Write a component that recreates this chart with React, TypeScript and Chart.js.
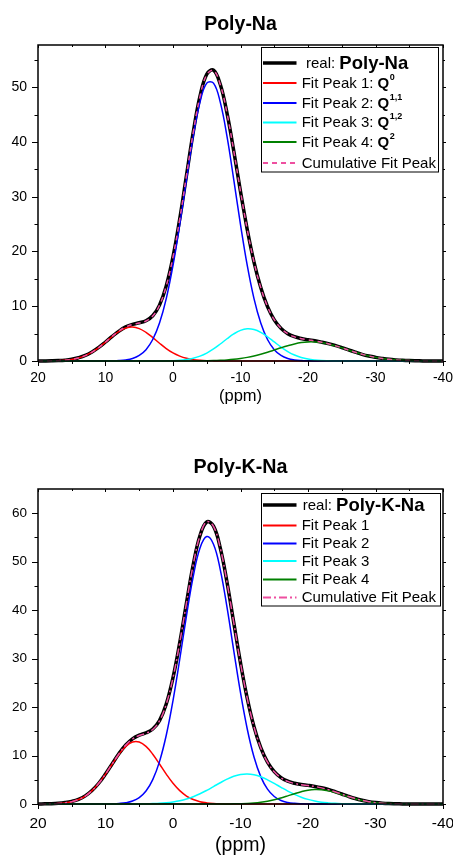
import React, { useEffect, useRef } from "react";
import { Chart, registerables } from "chart.js";

Chart.register(...registerables);

const FONT = "'Liberation Sans', Arial, Helvetica, sans-serif";

// chemical shift grid (ppm)
const PPM = [
  20, 19, 18, 17, 16, 15, 14, 13, 12, 11, 10, 9, 8, 7, 6, 5, 4, 3, 2, 1, 0,
  -1, -2, -3, -4, -5, -6, -7, -8, -9, -10, -11, -12, -13, -14, -15, -16, -17, -18, -19, -20,
  -21, -22, -23, -24, -25, -26, -27, -28, -29, -30, -31, -32, -33, -34, -35, -36, -37, -38, -39, -40,
];

const X_TICKS = [20, 10, 0, -10, -20, -30, -40];
const X_MINOR = [15, 5, -5, -15, -25, -35];
const TOP_Y_TICKS = [0, 10, 20, 30, 40, 50];
const TOP_Y_MINOR = [5, 15, 25, 35, 45, 55];
const BOT_Y_TICKS = [0, 10, 20, 30, 40, 50, 60];
const BOT_Y_MINOR = [5, 15, 25, 35, 45, 55];

// ---------- Poly-Na ----------
const TOP_REAL = [
  0.00, 0.01, 0.03, 0.07, 0.15, 0.31, 0.60, 1.02, 1.66, 2.48, 3.47, 4.50, 5.46, 6.22, 6.70, 6.98, 7.36, 8.26, 10.20, 13.72, 19.02,
  25.96, 33.90, 41.80, 48.34, 52.36, 53.10, 50.52, 45.26, 38.36, 30.96, 24.00, 18.06, 13.40, 9.92, 7.52, 5.96, 4.99, 4.44, 4.10, 3.88,
  3.68, 3.45, 3.18, 2.84, 2.45, 2.03, 1.62, 1.22, 0.90, 0.66, 0.47, 0.31, 0.20, 0.12, 0.07, 0.04, 0.02, 0.01, 0.01, 0.00,
];
const TOP_P1 = [
  0.00, 0.01, 0.03, 0.06, 0.14, 0.29, 0.56, 0.99, 1.62, 2.46, 3.45, 4.48, 5.40, 6.01, 6.20, 5.92, 5.23, 4.28, 3.24, 2.27, 1.47,
  0.89, 0.49, 0.25, 0.12, 0.05, 0.02, 0.01, 0, 0, 0, 0, 0, 0, 0, 0, 0, 0, 0, 0, 0,
  0, 0, 0, 0, 0, 0, 0, 0, 0, 0, 0, 0, 0, 0, 0, 0, 0, 0, 0, 0,
];
const TOP_P2 = [
  0, 0, 0, 0, 0, 0, 0, 0, 0, 0, 0.01, 0.03, 0.08, 0.20, 0.46, 1.02, 2.07, 3.92, 6.93, 11.40, 17.46,
  24.92, 33.12, 41.00, 47.26, 50.75, 50.75, 47.26, 41.00, 33.12, 24.92, 17.46, 11.40, 6.93, 3.92, 2.07, 1.02, 0.46, 0.20, 0.08, 0.03,
  0.01, 0, 0, 0, 0, 0, 0, 0, 0, 0, 0, 0, 0, 0, 0, 0, 0, 0, 0, 0,
];
const TOP_P3 = [
  0, 0, 0, 0, 0, 0, 0, 0, 0, 0, 0, 0, 0, 0, 0, 0, 0, 0, 0.01, 0.03, 0.06,
  0.13, 0.27, 0.51, 0.89, 1.45, 2.20, 3.10, 4.06, 4.94, 5.60, 5.89, 5.76, 5.24, 4.43, 3.48, 2.54, 1.73, 1.09, 0.64, 0.35,
  0.18, 0.08, 0.04, 0.02, 0.01, 0, 0, 0, 0, 0, 0, 0, 0, 0, 0, 0, 0, 0, 0, 0,
];
const TOP_P4 = [
  0, 0, 0, 0, 0, 0, 0, 0, 0, 0, 0, 0, 0, 0, 0, 0, 0, 0, 0, 0, 0,
  0, 0.01, 0.01, 0.02, 0.04, 0.07, 0.12, 0.19, 0.30, 0.46, 0.66, 0.92, 1.24, 1.60, 2.00, 2.41, 2.79, 3.12, 3.36, 3.48,
  3.48, 3.36, 3.12, 2.79, 2.41, 2.00, 1.60, 1.24, 0.92, 0.66, 0.46, 0.30, 0.19, 0.12, 0.07, 0.04, 0.02, 0.01, 0.01, 0.00,
];
const TOP_CUM = [
  0.00, 0.01, 0.03, 0.06, 0.14, 0.29, 0.56, 0.99, 1.62, 2.46, 3.46, 4.51, 5.48, 6.21, 6.66, 6.94, 7.30, 8.20, 10.18, 13.70, 18.99,
  25.94, 33.89, 41.77, 48.29, 52.29, 53.04, 50.49, 45.25, 38.36, 30.98, 24.01, 18.08, 13.41, 9.95, 7.55, 5.97, 4.98, 4.41, 4.08, 3.86,
  3.67, 3.44, 3.16, 2.81, 2.42, 2.00, 1.60, 1.24, 0.92, 0.66, 0.46, 0.30, 0.19, 0.12, 0.07, 0.04, 0.02, 0.01, 0.01, 0.00,
];

// ---------- Poly-K-Na ----------
const BOT_REAL = [
  0.01, 0.03, 0.06, 0.14, 0.29, 0.54, 0.96, 1.68, 2.78, 4.28, 6.18, 8.30, 10.42, 12.18, 13.44, 14.20, 14.70, 15.48, 17.20, 20.62, 26.06,
  33.30, 41.54, 49.40, 55.40, 58.20, 57.34, 52.84, 45.76, 37.42, 29.12, 21.80, 15.94, 11.62, 8.64, 6.68, 5.44, 4.70, 4.27, 4.02, 3.84,
  3.63, 3.35, 2.99, 2.55, 2.06, 1.57, 1.13, 0.77, 0.49, 0.30, 0.17, 0.09, 0.05, 0.02, 0.01, 0, 0, 0, 0, 0,
];
const BOT_P1 = [
  0.01, 0.02, 0.04, 0.10, 0.23, 0.48, 0.92, 1.65, 2.76, 4.27, 6.16, 8.25, 10.27, 11.88, 12.78, 12.78, 11.88, 10.27, 8.25, 6.16, 4.27,
  2.76, 1.65, 0.92, 0.48, 0.23, 0.10, 0.04, 0.02, 0.01, 0, 0, 0, 0, 0, 0, 0, 0, 0, 0, 0,
  0, 0, 0, 0, 0, 0, 0, 0, 0, 0, 0, 0, 0, 0, 0, 0, 0, 0, 0, 0,
];
const BOT_P2 = [
  0, 0, 0, 0, 0, 0, 0, 0, 0, 0, 0.01, 0.04, 0.11, 0.26, 0.61, 1.33, 2.68, 5.03, 8.75, 14.18, 21.35,
  29.87, 38.86, 46.98, 52.82, 55.18, 53.59, 48.38, 40.60, 31.67, 22.96, 15.48, 9.70, 5.65, 3.06, 1.54, 0.72, 0.31, 0.13, 0.05, 0.02,
  0.01, 0, 0, 0, 0, 0, 0, 0, 0, 0, 0, 0, 0, 0, 0, 0, 0, 0, 0, 0,
];
const BOT_P3 = [
  0, 0, 0, 0, 0, 0, 0, 0, 0, 0, 0, 0, 0, 0.01, 0.01, 0.02, 0.04, 0.08, 0.14, 0.25, 0.42,
  0.67, 1.03, 1.51, 2.11, 2.82, 3.60, 4.39, 5.12, 5.71, 6.09, 6.20, 6.03, 5.61, 4.99, 4.24, 3.44, 2.67, 1.98, 1.40, 0.95,
  0.62, 0.38, 0.23, 0.13, 0.07, 0.04, 0.02, 0.01, 0, 0, 0, 0, 0, 0, 0, 0, 0, 0, 0, 0,
];
const BOT_P4 = [
  0, 0, 0, 0, 0, 0, 0, 0, 0, 0, 0, 0, 0, 0, 0, 0, 0, 0, 0, 0, 0,
  0, 0, 0, 0, 0, 0, 0.01, 0.01, 0.03, 0.06, 0.11, 0.20, 0.35, 0.57, 0.87, 1.25, 1.68, 2.13, 2.54, 2.85,
  2.99, 2.95, 2.74, 2.39, 1.96, 1.50, 1.09, 0.74, 0.47, 0.28, 0.16, 0.08, 0.04, 0.02, 0.01, 0, 0, 0, 0, 0,
];
const BOT_CUM = [
  0.01, 0.02, 0.04, 0.10, 0.23, 0.48, 0.92, 1.65, 2.76, 4.27, 6.17, 8.29, 10.38, 12.15, 13.40, 14.13, 14.60, 15.38, 17.14, 20.59, 26.04,
  33.30, 41.54, 49.41, 55.41, 58.23, 57.29, 52.82, 45.75, 37.41, 29.11, 21.79, 15.93, 11.61, 8.62, 6.65, 5.41, 4.66, 4.24, 3.99, 3.82,
  3.62, 3.33, 2.97, 2.52, 2.03, 1.54, 1.11, 0.75, 0.47, 0.28, 0.16, 0.08, 0.04, 0.02, 0.01, 0, 0, 0, 0, 0,
];

// legend texts
const TOP_LEGEND_TEXT = ["real: ", "Fit Peak 1: ", "Fit Peak 2: ", "Fit Peak 3: ", "Fit Peak 4: ", "Cumulative Fit Peak"];
const TOP_LEGEND_BOLD = ["Poly-Na", "Q", "Q", "Q", "Q", ""];
const TOP_LEGEND_SUP = ["", "0", "1,1", "1,2", "2", ""];
const BOT_LEGEND_TEXT = ["real: ", "Fit Peak 1", "Fit Peak 2", "Fit Peak 3", "Fit Peak 4", "Cumulative Fit Peak"];
const BOT_LEGEND_BOLD = ["Poly-K-Na", "", "", "", "", ""];
const BOT_LEGEND_SUP = ["", "", "", "", "", ""];

const COLORS = ["#000000", "#ff0000", "#0000ff", "#00ffff", "#008000", "#ee4fa0"];
const WIDTHS = [3.5, 1.5, 1.5, 1.5, 1.5, 1.5];
const ORDERS = [10, 5, 4, 3, 2, 1];

interface PanelCfg {
  width: number;
  height: number;
  padTop: number;
  xAxisHeight: number;
  yMax: number;
  yTicks: number[];
  yMinor: number[];
  title: string;
  titleSize: number;
  titleBaseline: number;
  xTickSize: number;
  xTickPad: number;
  xTitleSize: number;
  xTitlePad: number;
  yTickSize: number;
  series: number[][];
  cumDash: number[];
  legendText: string[];
  legendBold: string[];
  legendSup: string[];
  legendBox: [number, number, number, number];
  legendRows: number[];
  legendFont: number;
  legendBoldFirst: number;
  realTextX: number;
}

const TOP_CFG: PanelCfg = {
  width: 453,
  height: 430,
  padTop: 45,
  xAxisHeight: 69,
  yMax: 57.7,
  yTicks: TOP_Y_TICKS,
  yMinor: TOP_Y_MINOR,
  title: "Poly-Na",
  titleSize: 19.5,
  titleBaseline: 30,
  xTickSize: 14,
  xTickPad: 9,
  xTitleSize: 16.5,
  xTitlePad: 24,
  yTickSize: 14,
  series: [TOP_REAL, TOP_P1, TOP_P2, TOP_P3, TOP_P4, TOP_CUM],
  cumDash: [5, 4],
  legendText: TOP_LEGEND_TEXT,
  legendBold: TOP_LEGEND_BOLD,
  legendSup: TOP_LEGEND_SUP,
  legendBox: [261.5, 47.5, 177, 124.5],
  legendRows: [63, 83, 103, 122.5, 142, 163],
  legendFont: 15,
  legendBoldFirst: 18.5,
  realTextX: 306,
};

const BOT_CFG: PanelCfg = {
  width: 453,
  height: 425,
  padTop: 59,
  xAxisHeight: 51,
  yMax: 65,
  yTicks: BOT_Y_TICKS,
  yMinor: BOT_Y_MINOR,
  title: "Poly-K-Na",
  titleSize: 19.7,
  titleBaseline: 43,
  xTickSize: 15.5,
  xTickPad: 10,
  xTitleSize: 19.5,
  xTitlePad: -2,
  yTickSize: 13.5,
  series: [BOT_REAL, BOT_P1, BOT_P2, BOT_P3, BOT_P4, BOT_CUM],
  cumDash: [8, 3, 2, 3],
  legendText: BOT_LEGEND_TEXT,
  legendBold: BOT_LEGEND_BOLD,
  legendSup: BOT_LEGEND_SUP,
  legendBox: [261.5, 63.5, 179, 112.5],
  legendRows: [75, 95.5, 113.5, 131, 149.5, 167.5],
  legendFont: 15,
  legendBoldFirst: 18.5,
  realTextX: 302.7,
};

function makePlugin(cfg: PanelCfg) {
  return {
    id: "frameLegend",
    afterDraw(chart: any) {
      const ctx: CanvasRenderingContext2D = chart.ctx;
      const { left, right, top, bottom } = chart.chartArea;
      const xs = chart.scales.x;
      const ys = chart.scales.y;
      ctx.save();
      ctx.strokeStyle = "#000";
      ctx.lineWidth = 1.5;
      ctx.strokeRect(left, top, right - left, bottom - top);
      ctx.lineWidth = 1;
      const seg = (x1: number, y1: number, x2: number, y2: number) => {
        ctx.beginPath();
        ctx.moveTo(x1, y1);
        ctx.lineTo(x2, y2);
        ctx.stroke();
      };
      for (const v of X_TICKS) {
        const px = Math.round(xs.getPixelForValue(v)) + 0.5;
        seg(px, bottom, px, bottom + 5);
        seg(px, top, px, top + 3);
      }
      for (const v of X_MINOR) {
        const px = Math.round(xs.getPixelForValue(v)) + 0.5;
        seg(px, bottom, px, bottom + 3);
        seg(px, top, px, top + 2);
      }
      for (const v of cfg.yTicks) {
        const py = Math.round(ys.getPixelForValue(v)) + 0.5;
        seg(left - 6, py, left, py);
        seg(right, py, right + 3, py);
      }
      for (const v of cfg.yMinor) {
        const py = Math.round(ys.getPixelForValue(v)) + 0.5;
        seg(left - 3.5, py, left, py);
        seg(right, py, right + 2, py);
      }

      // title
      ctx.fillStyle = "#000";
      ctx.textAlign = "center";
      ctx.textBaseline = "alphabetic";
      ctx.font = `bold ${cfg.titleSize}px ${FONT}`;
      ctx.fillText(cfg.title, (left + right) / 2, cfg.titleBaseline);

      // legend
      const [bx, by, bw, bh] = cfg.legendBox;
      ctx.fillStyle = "#fff";
      ctx.fillRect(bx, by, bw, bh);
      ctx.strokeStyle = "#000";
      ctx.lineWidth = 1;
      ctx.strokeRect(bx, by, bw, bh);
      const lx1 = bx + 1.5;
      const lx2 = bx + 35;
      const tx = bx + 40.2;
      cfg.legendRows.forEach((ry, i) => {
        ctx.save();
        ctx.strokeStyle = COLORS[i];
        ctx.lineWidth = i === 0 ? 3.5 : 1.8;
        if (i === 5) ctx.setLineDash(cfg.cumDash);
        seg(lx1, ry, lx2, ry);
        ctx.restore();
        ctx.fillStyle = "#000";
        ctx.textAlign = "left";
        ctx.textBaseline = "middle";
        let x = i === 0 ? cfg.realTextX : tx;
        ctx.font = `${cfg.legendFont}px ${FONT}`;
        ctx.fillText(cfg.legendText[i], x, ry + 0.5);
        x += ctx.measureText(cfg.legendText[i]).width;
        if (cfg.legendBold[i]) {
          const bs = i === 0 ? cfg.legendBoldFirst : cfg.legendFont;
          ctx.font = `bold ${bs}px ${FONT}`;
          ctx.fillText(cfg.legendBold[i], x, ry + 0.5);
          x += ctx.measureText(cfg.legendBold[i]).width;
        }
        if (cfg.legendSup[i]) {
          ctx.font = `bold 9px ${FONT}`;
          ctx.fillText(cfg.legendSup[i], x + 0.5, ry - 5.5);
        }
      });
      ctx.restore();
    },
  };
}

function Panel({ cfg }: { cfg: PanelCfg }) {
  const ref = useRef<HTMLCanvasElement | null>(null);
  useEffect(() => {
    if (!ref.current) return;
    const datasets = cfg.series.map((arr, i) => ({
      label: cfg.legendText[i] + cfg.legendBold[i],
      data: PPM.map((x, j) => ({ x, y: arr[j] })),
      borderColor: COLORS[i],
      backgroundColor: COLORS[i],
      borderWidth: WIDTHS[i],
      borderDash: i === 5 ? cfg.cumDash : [],
      pointRadius: 0,
      tension: 0.4,
      fill: false,
      order: ORDERS[i],
      clip: 6,
    }));
    const chart = new Chart(ref.current, {
      type: "line",
      data: { datasets },
      plugins: [makePlugin(cfg)],
      options: {
        animation: false,
        responsive: false,
        events: [],
        layout: { padding: { left: 0, right: 10, top: cfg.padTop, bottom: 0 } },
        plugins: {
          legend: { display: false },
          tooltip: { enabled: false },
          title: { display: false },
        },
        scales: {
          x: {
            type: "linear",
            reverse: true,
            min: -40,
            max: 20,
            afterBuildTicks: (s: any) => {
              s.ticks = X_TICKS.map((v) => ({ value: v }));
            },
            afterFit: (s: any) => {
              s.height = cfg.xAxisHeight;
              s.paddingLeft = 0;
              s.paddingRight = 0;
            },
            grid: { display: false, drawTicks: false },
            border: { display: false },
            ticks: {
              color: "#000",
              font: { family: FONT, size: cfg.xTickSize },
              padding: cfg.xTickPad,
              maxRotation: 0,
              autoSkip: false,
            },
            title: {
              display: true,
              text: "(ppm)",
              color: "#000",
              font: { family: FONT, size: cfg.xTitleSize },
              padding: { top: 0, bottom: cfg.xTitlePad },
            },
          },
          y: {
            type: "linear",
            min: 0,
            max: cfg.yMax,
            afterBuildTicks: (s: any) => {
              s.ticks = cfg.yTicks.map((v) => ({ value: v }));
            },
            afterFit: (s: any) => {
              s.width = 38;
              s.paddingTop = 0;
              s.paddingBottom = 0;
            },
            grid: { display: false, drawTicks: false },
            border: { display: false },
            ticks: {
              color: "#000",
              font: { family: FONT, size: cfg.yTickSize },
              padding: 11,
              autoSkip: false,
            },
          },
        },
      } as any,
    });
    return () => chart.destroy();
  }, [cfg]);
  return <canvas ref={ref} width={cfg.width} height={cfg.height} style={{ display: "block" }} />;
}

export default function App() {
  return (
    <div style={{ position: "absolute", left: 0, top: 0, width: 453, height: 855, background: "#fff" }}>
      <div style={{ position: "absolute", left: 0, top: 0 }}>
        <Panel cfg={TOP_CFG} />
      </div>
      <div style={{ position: "absolute", left: 0, top: 430 }}>
        <Panel cfg={BOT_CFG} />
      </div>
    </div>
  );
}
